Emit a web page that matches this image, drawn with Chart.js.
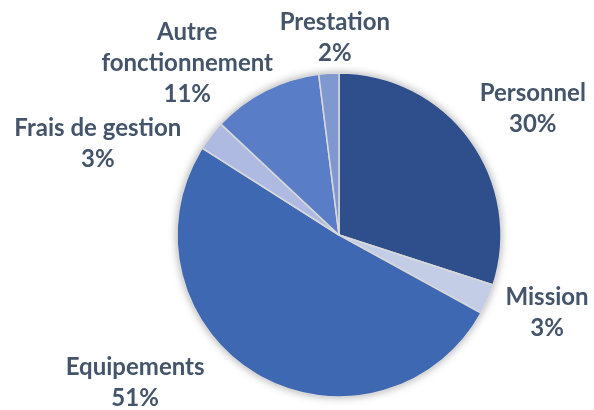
<!DOCTYPE html>
<html>
<head>
<meta charset="utf-8">
<script src="https://cdn.jsdelivr.net/npm/chart.js@4.4.1/dist/chart.umd.min.js"></script>
<style>
  html, body { margin: 0; padding: 0; background: #fff; }
  #wrap { width: 594px; height: 410px; }
</style>
</head>
<body>
<div id="wrap"><canvas id="pieChart" width="594" height="410"></canvas></div>
<script>
// budget split
var labels = ["Personnel", "Mission", "Equipements", "Frais de gestion", "Autre fonctionnement", "Prestation"];
var values = [30, 3, 51, 3, 11, 2];
var colors = ["#2E4F8C", "#C3CDE6", "#3E68B2", "#AEBAE1", "#5A7DC8", "#7F98D0"];
// label text lines (wrapped as in the original)
var labelLines = [["Personnel"], ["Mission"], ["Equipements"], ["Frais de gestion"], ["Autre", "fonctionnement"], ["Prestation"]];

// label placement: extra distance beyond the rim, and angle shift (deg)
var labelPad = [69, 60, 90, 96, 67, 35];
var labelShift = [3, -3, 23.4, -17, -14.5, 2.4];

var shadowPlugin = {
  id: 'pieShadow',
  beforeDatasetsDraw: function(chart) {
    var arc = chart.getDatasetMeta(0).data[0];
    if (!arc) return;
    var ctx = chart.ctx;
    ctx.save();
    ctx.shadowColor = 'rgba(0,0,0,0.35)';
    ctx.shadowBlur = 9;
    ctx.fillStyle = '#fff';
    ctx.beginPath();
    ctx.arc(arc.x, arc.y, arc.outerRadius, 0, Math.PI * 2);
    ctx.fill();
    ctx.restore();
  }
};

var labelPlugin = {
  id: 'outLabels',
  afterDatasetsDraw: function(chart) {
    var ctx = chart.ctx;
    var total = values.reduce(function(a, b) { return a + b; }, 0);
    var lineH = 31;
    ctx.save();
    ctx.fillStyle = '#44546A';
    ctx.font = 'bold 24px Lato';
    ctx.textAlign = 'center';
    ctx.textBaseline = 'middle';
    chart.getDatasetMeta(0).data.forEach(function(arc, i) {
      var mid = (arc.startAngle + arc.endAngle) / 2 + labelShift[i] * Math.PI / 180;
      var r = arc.outerRadius + labelPad[i];
      var x = arc.x + Math.cos(mid) * r;
      var y = arc.y + Math.sin(mid) * r;
      var lines = labelLines[i].concat([Math.round(values[i] / total * 100) + '%']);
      var y0 = y - (lines.length - 1) * lineH / 2;
      lines.forEach(function(t, k) {
        ctx.fillText(t, x, y0 + k * lineH);
      });
    });
    ctx.restore();
  }
};

var ctxP = document.getElementById("pieChart").getContext('2d');
var myPieChart = new Chart(ctxP, {
  type: 'pie',
  data: {
    labels: labels,
    datasets: [{
      data: values,
      backgroundColor: colors,
      borderColor: '#D9D9D9',
      borderWidth: 1.5
    }]
  },
  options: {
    responsive: false,
    animation: false,
    radius: 162,
    layout: { padding: { left: 84, right: 0, top: 60, bottom: 0 } },
    plugins: {
      legend: { display: false },
      tooltip: { enabled: false }
    }
  },
  plugins: [shadowPlugin, labelPlugin]
});
</script>
</body>
</html>
